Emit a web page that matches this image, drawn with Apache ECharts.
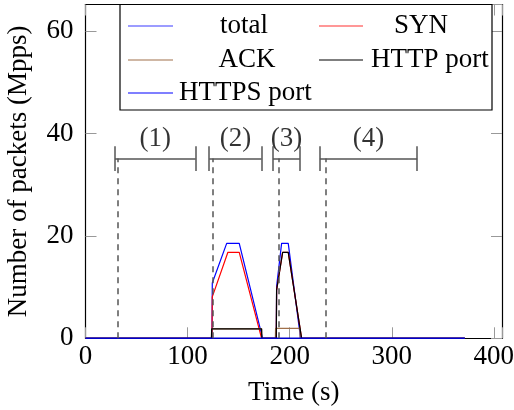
<!DOCTYPE html>
<html><head><meta charset="utf-8">
<script src="https://cdn.jsdelivr.net/npm/echarts@6/dist/echarts.min.js"></script>
<style>html,body{margin:0;padding:0;background:#fff}#c{width:514px;height:410px}</style>
</head><body><div id="c"></div>
<script>
// Data
var timeTotal = [0, 123.9, 124.2, 138.3, 150.6, 173.5, 186.9, 187.2, 192.1, 198.6, 210.7, 371.6];
var valTotal  = [0, 0, 10.8, 18.55, 18.55, 0, 0, 10.1, 18.55, 18.55, 0, 0];
var timeSYN = [0, 123.9, 124.2, 139.5, 150.6, 172.5, 186.9, 187.2, 193.1, 198.6, 211.7, 371.6];
var valSYN  = [0, 0, 8.1, 16.8, 16.8, 0, 0, 9.4, 16.8, 16.8, 0, 0];
var timeACK = [0, 123.4, 123.6, 172.5, 172.7, 186.0, 186.2, 210.0, 210.2, 371.6];
var valACK  = [0, 0, 1.85, 1.85, 0, 0, 1.95, 1.95, 0, 0];
var timeHTTP = [0, 123.4, 123.6, 172.5, 172.7, 186.9, 187.2, 193.1, 198.6, 211.7, 371.6];
var valHTTP  = [0, 0, 1.85, 1.85, 0, 0, 9.4, 16.8, 16.8, 0, 0];
var timeHTTPS = [0, 371.6];
var valHTTPS  = [0, 0];
var phaseStarts = [31.5, 124.8, 189.5, 235.5];      // dashed lines
var bracketFrom = [28.9, 121.2, 183.6, 229.6];
var bracketTo   = [107.9, 172.5, 210.0, 324.9];
var phaseLabels = ['(1)', '(2)', '(3)', '(4)'];
var xTicks = [0, 100, 200, 300, 400];
var yTicks = [0, 20, 40, 60];
var bracketY = 35.1, bracketHalf = 2.4, labelY = 39.0;

var FONT = 'Liberation Serif';
var FS = 27;
function pairs(t, v){ return t.map(function(x,i){return [x, v[i]];}); }

var markLines = [];
phaseStarts.forEach(function(x){
  markLines.push([{coord:[x,0], lineStyle:{type:[6,5], color:'#555', width:1.5}}, {coord:[x,bracketY]}]);
});
bracketFrom.forEach(function(a,i){
  var b = bracketTo[i];
  var st = {type:'solid', color:'#555', width:1.5};
  markLines.push([{coord:[a,bracketY], lineStyle:st},{coord:[b,bracketY]}]);
  markLines.push([{coord:[a,bracketY-bracketHalf], lineStyle:st},{coord:[a,bracketY+bracketHalf]}]);
  markLines.push([{coord:[b,bracketY-bracketHalf], lineStyle:st},{coord:[b,bracketY+bracketHalf]}]);
});
var labelPts = phaseLabels.map(function(s,i){ return {value:[(bracketFrom[i]+bracketTo[i])/2, labelY], name:s}; });

var seriesDefs = [
  {name:'total', t:timeTotal, v:valTotal, color:'#0000ff', w:1.2},
  {name:'SYN', t:timeSYN, v:valSYN, color:'#ff0000', w:1.2},
  {name:'ACK', t:timeACK, v:valACK, color:'#a0704a', w:1.2},
  {name:'HTTP port', t:timeHTTP, v:valHTTP, color:'#000000', w:1.2},
  {name:'HTTPS port', t:timeHTTPS, v:valHTTPS, color:'#0000cc', w:1.6}
];
var series = [{
  type:'line', data:[], silent:true, z:1,
  markLine:{silent:true, symbol:'none', label:{show:false}, animation:false, data:markLines}
},{
  type:'scatter', data:labelPts, symbolSize:1, itemStyle:{color:'rgba(0,0,0,0)'}, z:5,
  label:{show:true, position:'inside', formatter:function(p){return p.name;}, fontFamily:FONT, fontSize:FS, color:'#000'}
}];
seriesDefs.forEach(function(s){
  series.push({name:s.name, type:'line', data:pairs(s.t, s.v), showSymbol:false, symbol:'none',
    lineStyle:{color:s.color, width:s.w}, itemStyle:{color:s.color}, z:3, animation:false});
});

// legend (drawn as graphic box to mimic pgfplots centered cells)
var L = {x:120, y:4.5, w:372, h:105.5};
var rows = [26, 60, 93];
var legendItems = [
  {name:'total', color:'#3a3aff', x1:128, x2:173, tx:244, align:'center', row:0},
  {name:'SYN', color:'#ff3030', x1:319, x2:363, tx:421, align:'center', row:0},
  {name:'ACK', color:'#a0704a', x1:128, x2:173, tx:247, align:'center', row:1},
  {name:'HTTP port', color:'#000', x1:319, x2:363, tx:371, align:'left', row:1},
  {name:'HTTPS port', color:'#0000ff', x1:128, x2:173, tx:179, align:'left', row:2}
];
var graphic = [{type:'rect', shape:{x:L.x, y:L.y, width:L.w, height:L.h}, style:{fill:'#fff', stroke:'#000', lineWidth:1.2}, z:100}];
legendItems.forEach(function(it){
  var y = rows[it.row];
  graphic.push({type:'line', shape:{x1:it.x1, y1:y, x2:it.x2, y2:y}, style:{stroke:it.color, lineWidth:1.2}, z:101});
  graphic.push({type:'text', x:it.tx, y:y, style:{text:it.name, font:FS+'px "Liberation Serif"', fill:'#000', align:it.align, verticalAlign:'middle'}, z:101});
});

var tickStyle = {show:true, inside:true, length:11, lineStyle:{color:'#999', width:1}};
var option = {
  animation:false,
  grid:{left:85.5, right:12, top:4.5, bottom:71.7, containLabel:false, outerBoundsMode:'none'},
  xAxis:[{type:'value', min:0, max:408, interval:100, position:'bottom',
    axisLine:{show:true, onZero:false, lineStyle:{color:'#000', width:1.2}},
    axisTick:tickStyle, splitLine:{show:false},
    axisLabel:{fontFamily:FONT, fontSize:FS, color:'#000', margin:5, showMaxLabel:true,
      formatter:function(v){return xTicks.indexOf(v)>=0 ? String(v) : '';}},
    name:'Time (s)', nameLocation:'middle', nameGap:41, nameTextStyle:{fontFamily:FONT, fontSize:FS, color:'#000'}},
   {type:'value', min:0, max:408, interval:100, position:'top',
    axisLine:{show:true, onZero:false, lineStyle:{color:'#000', width:1.2}},
    axisTick:tickStyle, axisLabel:{show:false}, splitLine:{show:false}}],
  yAxis:[{type:'value', min:0, max:65.2, interval:20, position:'left',
    axisLine:{show:true, onZero:false, lineStyle:{color:'#000', width:1.2}},
    axisTick:tickStyle, splitLine:{show:false},
    axisLabel:{fontFamily:FONT, fontSize:FS, color:'#000', margin:12, showMaxLabel:false,
      formatter:function(v){return yTicks.indexOf(v)>=0 ? String(v) : '';}},
    name:'Number of packets (Mpps)', nameLocation:'middle', nameGap:53, nameTextStyle:{fontFamily:FONT, fontSize:FS, color:'#000'}},
   {type:'value', min:0, max:65.2, interval:20, position:'right',
    axisLine:{show:true, onZero:false, lineStyle:{color:'#000', width:1.2}},
    axisTick:tickStyle, axisLabel:{show:false}, splitLine:{show:false}}],
  series: series,
  graphic: graphic
};
var chart = echarts.init(document.getElementById('c'), null, {renderer:'canvas'});
chart.setOption(option);
</script></body></html>
